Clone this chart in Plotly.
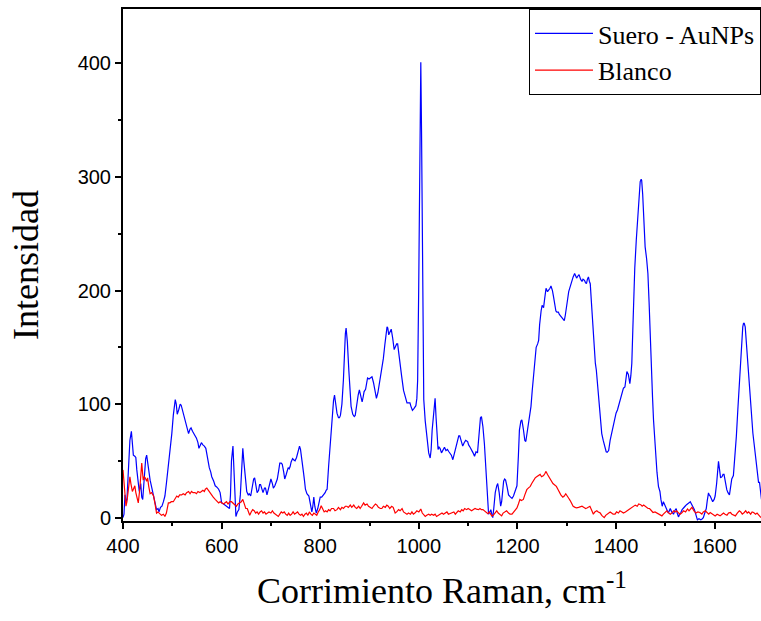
import plotly.graph_objects as go

# Blue series: Suero - AuNPs
suero_x = [400, 402, 404, 406, 408, 411, 414, 417, 419, 421, 424, 426, 428, 430, 433, 436, 438, 440, 443, 446, 448, 451, 455, 458, 462, 465, 468, 471, 473, 476, 479, 482, 485, 488, 492, 495, 499, 502, 506, 508, 510, 513, 516, 518, 521, 524, 526, 529, 533, 536, 538, 541, 544, 546, 549, 552, 554, 557, 559, 562, 565, 568, 571, 575, 578, 580, 584, 587, 590, 594, 597, 600, 604, 607, 610, 613, 616, 618, 620, 623, 625, 627, 629, 632, 635, 638, 641, 643, 645, 648, 651, 654, 656, 659, 662, 665, 667, 670, 672, 675, 677, 679, 682, 684, 687, 689, 692, 695, 698, 700, 703, 705, 708, 711, 713, 716, 718, 721, 723, 726, 728, 731, 733, 735, 737, 739, 741, 744, 746, 749, 752, 755, 758, 760, 763, 766, 768, 770, 773, 777, 780, 783, 785, 787, 789, 792, 795, 798, 800, 803, 807, 810, 812, 814, 817, 821, 824, 827, 829, 831, 834, 837, 839, 841, 844, 847, 849, 851, 852.5, 855, 858, 860, 862.6, 866, 869, 871, 874, 877, 879.4, 882, 885, 887, 889, 892, 894, 896, 899, 902, 905, 908, 911, 914, 917, 920, 922, 925.5, 928, 931, 933, 935.5, 937, 939, 941, 944, 947, 950, 952, 955, 957, 960, 962, 965, 969, 973, 976, 979, 982, 984, 987, 990, 992, 994, 996, 997.6, 999.7, 1002, 1004, 1005.5, 1007.8, 1010, 1013, 1017, 1020, 1023, 1025, 1027, 1030, 1033, 1035, 1037, 1039, 1041, 1043, 1046, 1049, 1052, 1055, 1058, 1061, 1063, 1066, 1069, 1072, 1075, 1078, 1081, 1083, 1086, 1089, 1092, 1095, 1099, 1101, 1104, 1107, 1110, 1113, 1116, 1119, 1122, 1125, 1127, 1130, 1133, 1135, 1137, 1139, 1141.5, 1144, 1146, 1148, 1150, 1152, 1155, 1158, 1160, 1163, 1166, 1168, 1170, 1172, 1174, 1176, 1179, 1182, 1186, 1189, 1192, 1194, 1197, 1199, 1202, 1204, 1207, 1209, 1212, 1215, 1217, 1220, 1222, 1225, 1227.5, 1230, 1233, 1236, 1238, 1241, 1243, 1245, 1246, 1248, 1250, 1253, 1255, 1258, 1261, 1263, 1266, 1268, 1271, 1273, 1276, 1278, 1280, 1283, 1285, 1287, 1290, 1293, 1295, 1297, 1299, 1302, 1304, 1307, 1310, 1313, 1316, 1318, 1320, 1323, 1325, 1328, 1331, 1333, 1336, 1338, 1340, 1342, 1344, 1346, 1347.7, 1350, 1352, 1354, 1356, 1358, 1360, 1362, 1364.5, 1367, 1369, 1371, 1374, 1377, 1380, 1382, 1385, 1388, 1391, 1393, 1395, 1398, 1400, 1403, 1405, 1408, 1410, 1413, 1415, 1418, 1420, 1422, 1425, 1428, 1430, 1432, 1434, 1435.5, 1438, 1441, 1443, 1445.7, 1447, 1449, 1451, 1452, 1454, 1455.7, 1457, 1459, 1462, 1464.6, 1467, 1469, 1471, 1472.6, 1474, 1476, 1478, 1481, 1483, 1486, 1489, 1491, 1493.6, 1496, 1499, 1502, 1504, 1506, 1508, 1510, 1513, 1516.6, 1519, 1522, 1524, 1526.6, 1529, 1531, 1534, 1537, 1540, 1543, 1546, 1548, 1550.5, 1553, 1556, 1559, 1561, 1563, 1565, 1568, 1570, 1572, 1575, 1577, 1580, 1583, 1585, 1587.5, 1589, 1591, 1594, 1596, 1599, 1601, 1604, 1606, 1607.8, 1610, 1612, 1615, 1617, 1619, 1622, 1624.6, 1627, 1630, 1632, 1634.7, 1638, 1641, 1644, 1647, 1650.5, 1653, 1655, 1657, 1658.5, 1660, 1662, 1664, 1666.6, 1669, 1672, 1675, 1677.5, 1680, 1682, 1685, 1687.6, 1689, 1691, 1693, 1695]
suero_y = [0, 3, 20, 14, 16, 40, 68, 76, 66, 55, 54, 53, 42, 33, 23, 30, 18, 16, 35, 52, 55, 44, 33, 27, 19, 14, 7, 8, 5, 9, 10, 14, 19, 30, 45, 58, 74, 90, 104, 100, 91, 95, 100, 99, 94, 89, 85, 80, 74, 78, 79, 76, 74, 72, 70, 66, 61, 64, 66, 64, 63, 61, 52, 44, 40, 36, 32, 28, 27, 25, 22, 13, 12, 11, 10, 9, 8, 20, 50, 63, 40, 10, 1, 5, 7, 20, 55, 61, 50, 33, 23, 20, 21, 19, 26, 34, 35, 28, 22, 24, 29, 29, 25, 22, 26, 26, 20, 25, 31, 34, 30, 26, 28, 33, 34, 42, 48, 48, 47, 40, 34, 38, 42, 44, 43, 45, 49, 52, 51, 50, 53, 58, 63, 60, 47, 40, 33, 25, 21, 19, 12, 5, 10, 18, 10, 4, 8, 15, 18, 18, 20, 22, 24, 25, 45, 69, 88, 103, 108, 102, 92, 88, 88, 90, 100, 121, 145, 162, 167, 155, 130, 112, 98, 91, 89, 90, 100, 108, 112.5, 108, 102, 106, 111, 113, 118, 123, 122, 123, 124, 119, 110, 105, 110, 118, 124, 136, 140, 152, 160, 168, 167, 161, 163, 166, 158, 148, 150, 153, 153, 140, 133, 125, 112, 105, 101, 101, 101, 98, 94.5, 96, 98, 98.6, 105, 121, 200, 330, 401, 340, 200, 104, 85, 66, 57, 52.5, 60, 77, 95, 105, 88, 68, 60, 62, 61, 57, 60, 62, 59, 60, 58, 57, 55, 51, 56, 63, 68, 72, 72, 67, 63, 66, 68, 67, 64, 62, 60, 57, 54, 58, 57, 70, 88, 89, 80, 65, 48, 30, 12, 3, 5, 7, 3, 0, 8, 22, 28, 30, 22, 10, 14, 28, 32, 34, 33, 27, 20, 18, 17, 19, 22, 25, 28, 55, 77, 85, 86, 78, 68, 67, 75, 83, 90, 98, 112, 127, 142, 150, 153, 156, 170, 177, 182, 187, 185, 192, 202, 199, 200, 202, 204, 200, 195, 188, 182, 181, 181, 179, 178, 176, 174, 173.5, 178, 186, 193, 199, 204, 209, 212, 215, 213, 211, 213, 214, 210, 208, 210, 209, 207, 206, 210, 212, 208, 206, 190, 177, 160, 142, 136, 130, 120, 107, 95, 83, 74, 68, 63, 58, 57.5, 59, 68, 74, 80, 84, 90, 92, 95, 98, 103, 106.6, 110, 114, 115, 122, 128.6, 126, 118, 125, 136, 165, 192, 220, 244, 258, 271, 285, 296, 298, 297, 285, 271, 255, 238.5, 228, 215, 190, 162, 140, 124, 106, 86, 70, 51, 40, 27.5, 23, 16, 10, 14, 10, 8, 6, 4, 6, 8, 5, 3, 6, 8, 4, 0.6, 3, 4, 7, 9, 10, 11.4, 12, 13, 14, 12, 10, 7, 4, 0, -2, -1, -2, -2, -1, 0, 4, 8, 15, 21.7, 20, 19, 16, 14, 16, 19, 30, 42, 49.5, 42, 35, 36, 38, 38, 30, 24.6, 22, 20, 26, 34, 37, 52, 71.5, 95, 121, 140, 159, 168, 171, 171, 168, 155, 139, 125, 110, 92, 74.5, 65, 57, 45, 33, 31, 31, 22, 16]

# Red series: Blanco
blanco_x = [400, 402, 404, 406, 408, 411, 414, 416, 419, 421, 424, 426, 429, 431, 434, 436, 438, 440, 441, 443, 445, 448, 450, 452, 455, 458, 462, 465, 468, 471, 475, 478, 482, 485, 488, 490, 492, 495, 498, 502, 505, 509, 512, 515, 519, 522, 526, 529, 533, 536, 539, 542, 546, 549, 552, 556, 559, 562, 565, 567, 570, 573, 576, 580, 583, 587, 590, 594, 597, 600, 604, 607, 610, 613, 617, 620, 623, 627, 630, 633, 637, 640, 643, 646, 649, 652, 655, 657, 660, 663, 666, 669, 672, 675, 678, 681, 684, 687, 690, 693, 696, 700, 703, 706, 709, 712, 715, 718, 721, 724, 727, 730, 733, 736, 739, 742, 745, 748, 751, 754, 757, 760, 763, 766, 769, 772, 775, 778, 781, 784, 787, 790, 793, 796, 799, 802, 805, 808, 811, 814, 817, 820, 823, 827, 830, 834, 837, 841, 844, 847, 851, 854, 857, 861, 864, 868, 871, 874, 878, 881, 884, 888, 891, 895, 898, 901, 905, 908, 912, 915, 918, 922, 925, 928, 932, 935, 938, 941, 945, 948, 952, 955, 959, 962, 966, 969, 972, 976, 979, 983, 986, 989, 992, 996, 1000, 1004, 1007, 1010, 1013, 1016, 1020, 1023, 1026, 1030, 1033, 1036, 1040, 1043, 1047, 1050, 1053, 1057, 1060, 1064, 1067, 1071, 1074, 1077, 1080, 1084, 1087, 1090, 1093, 1097, 1100, 1104, 1107, 1110, 1114, 1117, 1121, 1124, 1127, 1130, 1133, 1136, 1140, 1143, 1146, 1148, 1151, 1155, 1158, 1161, 1165, 1168, 1171, 1175, 1178, 1182, 1185, 1189, 1192, 1196, 1199, 1202, 1205, 1208, 1212, 1215, 1219, 1222, 1226, 1229, 1233, 1236, 1239, 1242, 1246, 1249, 1253, 1256, 1258, 1261, 1265, 1268, 1272, 1275, 1279, 1282, 1285, 1288, 1292, 1295, 1298, 1300, 1304, 1307, 1310, 1313, 1317, 1320, 1324, 1328, 1331, 1335, 1338, 1341, 1344, 1347, 1351, 1354, 1357, 1361, 1364, 1368, 1371, 1374, 1376, 1379, 1382, 1384, 1388, 1391, 1394, 1398, 1401, 1405, 1408, 1412, 1415, 1419, 1422, 1425, 1428, 1432, 1435, 1439, 1443, 1446, 1450, 1453, 1456, 1459, 1462, 1465, 1468, 1472, 1475, 1479, 1483, 1486, 1490, 1493, 1496, 1500, 1503, 1507, 1510, 1513, 1517, 1520, 1523, 1527, 1530, 1533, 1537, 1541, 1545, 1548, 1551, 1554, 1558, 1562, 1566, 1570, 1574, 1577, 1581, 1584, 1588, 1591, 1595, 1598, 1601, 1605, 1608, 1611, 1615, 1618, 1621, 1625, 1628, 1632, 1635, 1638, 1642, 1646, 1650, 1653, 1656, 1660, 1663, 1666, 1669, 1673, 1676, 1679, 1683, 1686, 1690, 1694]
blanco_y = [42, 28, 16, 10, 14, 25, 36, 30, 23, 25, 28, 22, 15, 13, 25, 40, 48, 38, 33, 36, 35, 32, 35, 28, 21, 22, 19, 12, 4, 5, 3, 2, 3, 1, 4, 8, 13, 13, 14, 14, 16, 19, 18, 20, 20, 21, 20, 22, 23, 21, 23, 22, 22, 21, 23, 22, 23, 24, 23, 25, 26, 24, 22, 19, 18, 16, 15, 13, 14, 13, 12, 13, 14, 12, 14, 14, 13, 11, 10, 12, 13, 14, 16, 12, 8, 8, 4, 2, 5, 7, 6, 4, 5, 3, 5, 6, 4, 5, 3, 4, 5, 4, 6, 4, 3, 2, 1, 3, 5, 4, 5, 3, 2, 4, 2, 3, 5, 3, 4, 5, 3, 2, 3, 1, 3, 4, 2, 5, 3, 2, 4, 3, 2, 5, 7, 10.5, 8, 5, 6, 5, 7, 6, 8, 8, 6, 7, 9, 7, 9, 8, 10, 10, 9, 11, 9, 11, 9, 8, 10, 8, 10, 13, 11, 12, 10, 9, 8, 10, 12, 11, 9, 8, 8, 10, 9, 11, 10, 8, 10, 9, 4, 5, 7, 6, 8, 5, 4, 3, 4, 3, 5, 3, 4, 6, 5, 7.5, 4, 2, 1, 2, 3, 2, 3, 2, 3, 1, 2, 3, 4, 3, 4, 5, 3, 4, 4, 5, 3, 5, 6, 5, 7, 6, 8, 7, 8, 7, 6, 7, 8, 7.5, 7, 8, 7, 7, 6, 5, 3.5, 5, 3, 1.5, 2, 5, 6, 4, 2, 1.5, 4, 5, 6, 4, 3, 3, 5, 7, 8.5, 12, 16, 15, 16, 20, 24.6, 26, 27.5, 30, 33, 35, 36, 37, 38, 36, 37, 39, 40.7, 38, 35, 33, 30, 29, 27.5, 25, 22, 20, 18, 19, 21, 20, 17, 15, 13, 10, 9, 8.5, 9, 10, 10, 9, 8, 8.5, 9, 10, 6, 3, 5, 6, 5, 4, 2, 1, 0, 2, 3, 3, 5, 4, 3, 3, 5, 4, 6, 5, 4, 5, 6, 7, 7.6, 9, 10, 11, 10, 12, 11.4, 10, 11, 10, 9, 8, 8, 6, 4.5, 5, 4, 3, 2, 1.5, 3, 5, 6, 4, 3, 4, 6, 5, 6, 4, 3, 4, 6, 5, 7.6, 6, 8, 9, 6, 4, 5, 4.5, 3, 5, 6, 5, 3, 4.5, 3, 2, 1.5, 3, 2, 1.5, 3, 4, 3, 2, 4, 4.5, 3, 2, 1.5, 4, 6, 5, 3, 4.5, 6, 4, 5, 3, 5, 4.5, 3, 4, 2, 0]

x_range = [400, 1694]
y_range = [-3, 448]
x_ticks = [400, 600, 800, 1000, 1200, 1400, 1600]
y_ticks = [0, 100, 200, 300, 400]

fig = go.Figure()
fig.add_trace(go.Scatter(x=suero_x, y=suero_y, mode="lines", name="Suero - AuNPs",
                         line=dict(color="#0000FF", width=1.2)))
fig.add_trace(go.Scatter(x=blanco_x, y=blanco_y, mode="lines", name="Blanco",
                         line=dict(color="#FF0000", width=1.2)))

axis_common = dict(showgrid=False, zeroline=False, showline=True, linecolor="black",
                   linewidth=2, ticks="outside", ticklen=6, tickwidth=2, tickcolor="black",
                   automargin=False,
                   tickfont=dict(family="Liberation Sans, Arial, sans-serif", size=20, color="black"))

fig.update_xaxes(range=x_range, tickvals=x_ticks, mirror=True,
                 minor=dict(ticks="outside", ticklen=3, tickwidth=1.5, dtick=100, tick0=400, tickcolor="black"),
                 title=dict(text="Corrimiento Raman, cm<sup>-1</sup>", standoff=22,
                            font=dict(family="Liberation Serif, Times New Roman, serif", size=36, color="black")),
                 **axis_common)
fig.update_yaxes(range=y_range, tickvals=y_ticks,
                 minor=dict(ticks="outside", ticklen=3, tickwidth=1.5, dtick=50, tick0=0, tickcolor="black"),
                 title=dict(text="Intensidad", standoff=28,
                            font=dict(family="Liberation Serif, Times New Roman, serif", size=36, color="black")),
                 **axis_common)

fig.update_layout(
    width=761, height=621,
    margin=dict(l=123, r=0, t=9, b=100, autoexpand=False),
    paper_bgcolor="white", plot_bgcolor="white",
    showlegend=True,
    legend=dict(x=1, y=1, xanchor="right", yanchor="top", bgcolor="white",
                bordercolor="black", borderwidth=1,
                font=dict(family="Liberation Serif, Times New Roman, serif", size=26, color="black"),
                tracegroupgap=0, itemwidth=58),
)

fig.write_html("out.html", config={"displayModeBar": False},
               post_script="document.body.style.margin='0';document.body.style.overflow='hidden';")
